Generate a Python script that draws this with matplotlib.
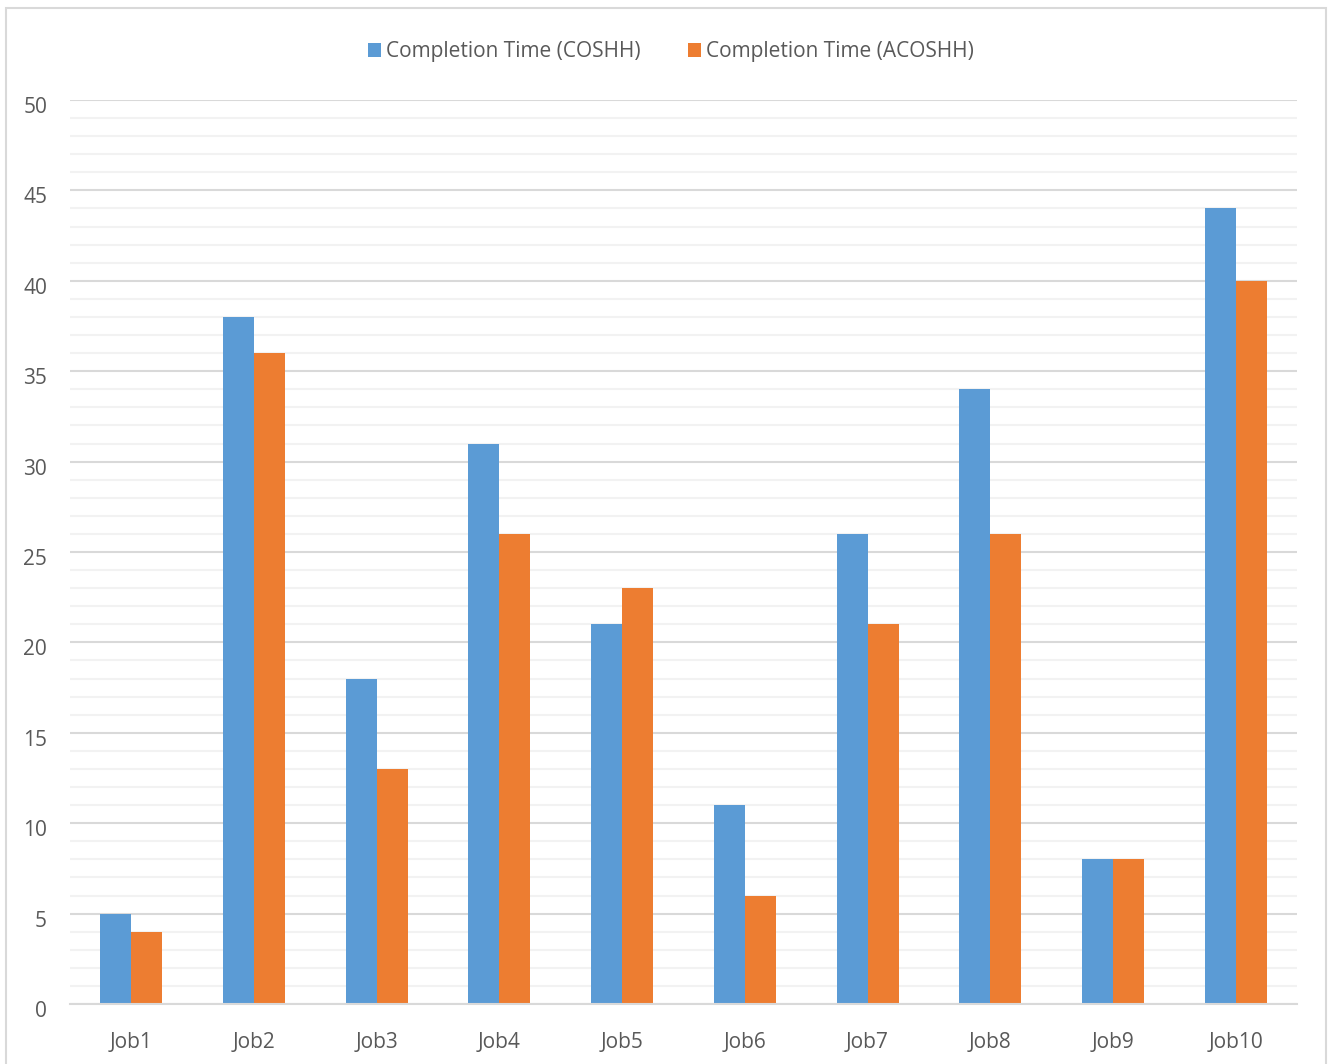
import matplotlib
matplotlib.use("Agg")
import matplotlib.pyplot as plt
import matplotlib.transforms as mtransforms
import numpy as np
from matplotlib.patches import Rectangle

jobs = ["Job1", "Job2", "Job3", "Job4", "Job5", "Job6", "Job7", "Job8", "Job9", "Job10"]
coshh = [5, 38, 18, 31, 21, 11, 26, 34, 8, 44]
acoshh = [4, 36, 13, 26, 23, 6, 21, 26, 8, 40]
series_names = ["Completion Time (COSHH)", "Completion Time (ACOSHH)"]

blue = "#5b9bd5"
orange = "#ed7d31"
text_color = "#595959"

plt.rcParams["font.family"] = ["Open Sans", "DejaVu Sans"]

fig = plt.figure(figsize=(13.31, 10.64), dpi=100)
ax = fig.add_axes([70 / 1331, 1 - 1004 / 1064, 1227 / 1331, 904 / 1064])

x = np.arange(len(jobs))
w = 0.2525
ax.bar(x - w / 2, coshh, width=w, color=blue, label=series_names[0], zorder=3)
ax.bar(x + w / 2, acoshh, width=w, color=orange, label=series_names[1], zorder=3)

ax.set_xlim(-0.5, len(jobs) - 0.5)
ax.set_ylim(0, 50)
ax.set_yticks(np.arange(0, 51, 5))
ax.set_yticks(np.arange(0, 51, 1), minor=True)
ax.grid(axis="y", which="major", color="#d9d9d9", linewidth=1.5, zorder=1)
ax.grid(axis="y", which="minor", color="#f2f2f2", linewidth=1.5, zorder=0)
ax.set_xticks(x)
ax.set_xticklabels(jobs)

for s in ["top", "right", "left"]:
    ax.spines[s].set_visible(False)
ax.spines["bottom"].set_color("#d9d9d9")
ax.spines["bottom"].set_linewidth(1.5)
ax.spines["bottom"].set_zorder(4)

ax.tick_params(axis="both", which="both", length=0, labelsize=15, colors=text_color)
ax.tick_params(axis="y", pad=16.5)
ax.tick_params(axis="x", pad=20.5)

# value labels sit slightly below their gridlines
shift = mtransforms.ScaledTranslation(0, -5 / 100, fig.dpi_scale_trans)
for lbl in ax.get_yticklabels():
    lbl.set_transform(lbl.get_transform() + shift)

leg = fig.legend(loc="center", bbox_to_anchor=(671 / 1331, 1 - 52 / 1064), ncol=2,
                 frameon=False, fontsize=15, handlelength=0.63, handleheight=0.63,
                 handletextpad=0.24, columnspacing=2.26, labelcolor=text_color)

# chart outline
fig.patches.append(Rectangle((6 / 1331, -0.01), 1320 / 1331, 1 - 8 / 1064 + 0.01,
                             transform=fig.transFigure, fill=False,
                             edgecolor="#d9d9d9", linewidth=1.5))

fig.savefig("out.png", dpi=100)
